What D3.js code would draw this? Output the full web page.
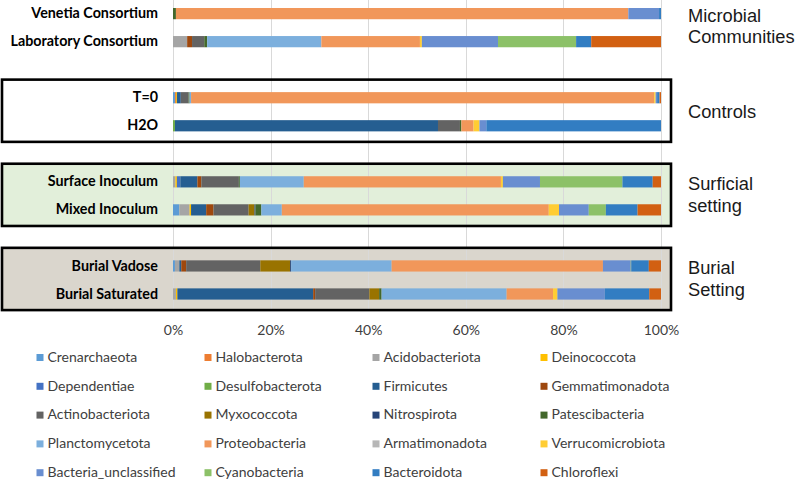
<!DOCTYPE html>
<html>
<head>
<meta charset="utf-8">
<script src="https://cdn.jsdelivr.net/npm/d3@7"></script>
<style>
  body { margin: 0; background: #fff; }
  svg { display: block; }
</style>
</head>
<body>
<div id="chart"></div>
<script>
// samples (top to bottom), gaps between the groups are empty slots
const categories = ['Venetia Consortium', 'Laboratory Consortium', 'T=0', 'H2O',
  'Surface Inoculum', 'Mixed Inoculum', 'Burial Vadose', 'Burial Saturated'];
const slots = ['Venetia Consortium', 'Laboratory Consortium', 'gap1', 'T=0', 'H2O', 'gap2',
  'Surface Inoculum', 'Mixed Inoculum', 'gap3', 'Burial Vadose', 'Burial Saturated'];

const phyla = ['Crenarchaeota', 'Halobacterota', 'Acidobacteriota', 'Deinococcota',
  'Dependentiae', 'Desulfobacterota', 'Firmicutes', 'Gemmatimonadota',
  'Actinobacteriota', 'Myxococcota', 'Nitrospirota', 'Patescibacteria',
  'Planctomycetota', 'Proteobacteria', 'Armatimonadota', 'Verrucomicrobiota',
  'Bacteria_unclassified', 'Cyanobacteria', 'Bacteroidota', 'Chloroflexi'];

const colors = ['#5B9BD5', '#ED7D31', '#A5A5A5', '#FFC000', '#4472C4', '#70AD47',
  '#255E91', '#9E480E', '#636363', '#997300', '#264478', '#43682B', '#7CAFDD',
  '#F1975A', '#B7B7B7', '#FFCD33', '#698ED0', '#8CC168', '#327DC2', '#D26012'];

// relative abundance (%), one value per phylum in the order above
const venetia    = [0, 0, 0, 0, 0, 0, 0, 0, 0, 0, 0, 0.6, 0, 92.7, 0, 0, 6.3, 0, 0.4, 0];
const laboratory = [0, 0, 2.9, 0, 0, 0, 0, 1.0, 2.5, 0, 0, 0.6, 23.4, 20.2, 0, 0.4, 15.6, 16.0, 3.1, 14.3];
const t0         = [0.4, 0.2, 0, 0.2, 0, 0, 0.8, 0, 1.6, 0, 0, 0.2, 0.3, 94.9, 0, 0.3, 0.3, 0, 0.5, 0.3];
const h2o        = [0, 0, 0, 0, 0, 0.4, 53.9, 0, 4.5, 0, 0, 0.3, 0, 2.5, 0, 1.2, 1.4, 0, 35.8, 0];
const surface    = [0, 0, 0.5, 0.3, 0.7, 0, 3.5, 0.8, 7.7, 0, 0, 0.2, 13.1, 40.4, 0, 0.4, 7.6, 16.9, 6.2, 1.7];
const mixed      = [1.3, 0, 2.1, 0.3, 0, 0, 3.1, 1.5, 7.2, 1.2, 0.2, 1.2, 4.2, 54.7, 0, 2.1, 6.1, 3.5, 6.5, 4.8];
const vadose     = [0.4, 0, 0.9, 0, 0, 0, 0.4, 1.0, 15.2, 6.1, 0.2, 0, 20.6, 43.3, 0, 0, 5.7, 0.1, 3.6, 2.5];
const saturated  = [0, 0, 0.6, 0.3, 0, 0, 27.8, 0.4, 11.1, 2.0, 0, 0.5, 25.6, 9.5, 0, 0.9, 9.7, 0, 9.1, 2.4];
const sampleValues = [venetia, laboratory, t0, h2o, surface, mixed, vadose, saturated];

// boxed groups + the labels on the right
const groups = [
  {name: ['Microbial', 'Communities'], members: ['Venetia Consortium', 'Laboratory Consortium'], box: false},
  {name: ['Controls'], members: ['T=0', 'H2O'], box: true, fill: '#ffffff'},
  {name: ['Surficial', 'setting'], members: ['Surface Inoculum', 'Mixed Inoculum'], box: true, fill: '#E2EFDA'},
  {name: ['Burial', 'Setting'], members: ['Burial Vadose', 'Burial Saturated'], box: true, fill: '#DAD6CD'}
];

const tickValues = [0, 0.2, 0.4, 0.6, 0.8, 1];

// layout
const width = 797;
const height = 480;
const plot = {left: 173, right: 661, top: -0.4, bottom: 308};

const table = categories.map((c, i) => {
  const row = {name: c};
  phyla.forEach((p, j) => row[p] = sampleValues[i][j]);
  return row;
});

const series = d3.stack()
  .keys(phyla)
  .offset(d3.stackOffsetExpand)(table);

const x = d3.scaleLinear().domain([0, 1]).range([plot.left, plot.right]);
const y = d3.scaleBand()
  .domain(slots)
  .range([plot.top, plot.bottom])
  .paddingInner(0.6)
  .paddingOuter(0.3);
const color = d3.scaleOrdinal().domain(phyla).range(colors);

const svg = d3.select('#chart').append('svg')
  .attr('width', width)
  .attr('height', height);

// box fills
const boxes = groups.filter(g => g.box);
const boxX0 = 2, boxX1 = 671;
const boxTop = g => y(g.members[0]) - 12.5;
const boxBottom = g => y(g.members[1]) + y.bandwidth() + 10.5;

svg.append('g').selectAll('rect')
  .data(boxes)
  .join('rect')
  .attr('x', boxX0)
  .attr('y', boxTop)
  .attr('width', boxX1 - boxX0)
  .attr('height', g => boxBottom(g) - boxTop(g))
  .attr('fill', g => g.fill);

// gridlines
svg.append('g').selectAll('line')
  .data(tickValues)
  .join('line')
  .attr('x1', d => Math.round(x(d)) + 0.5)
  .attr('x2', d => Math.round(x(d)) + 0.5)
  .attr('y1', 0)
  .attr('y2', 309)
  .attr('stroke', '#D9D9D9')
  .attr('stroke-width', 1);

// stacked bars
svg.append('g').selectAll('g')
  .data(series)
  .join('g')
  .attr('fill', d => color(d.key))
  .selectAll('rect')
  .data(d => d.map(s => ({s, name: s.data.name})))
  .join('rect')
  .attr('x', d => x(d.s[0]))
  .attr('y', d => y(d.name))
  .attr('width', d => Math.max(0, x(d.s[1]) - x(d.s[0])))
  .attr('height', y.bandwidth());

// box borders
svg.append('g').selectAll('rect')
  .data(boxes)
  .join('rect')
  .attr('x', boxX0)
  .attr('y', boxTop)
  .attr('width', boxX1 - boxX0)
  .attr('height', g => boxBottom(g) - boxTop(g))
  .attr('fill', 'none')
  .attr('stroke', '#000')
  .attr('stroke-width', 2.6);

// category axis
const yAxis = d3.axisLeft(y)
  .tickValues(categories)
  .tickSize(0)
  .tickPadding(15);

svg.append('g')
  .attr('transform', `translate(${plot.left}, 0)`)
  .call(yAxis)
  .call(g => g.select('.domain').remove())
  .selectAll('text')
  .attr('font-family', 'Lato, "Open Sans", sans-serif')
  .attr('font-weight', 'bold')
  .attr('font-size', 14.3)
  .attr('fill', '#000');

// percent axis
const xAxis = d3.axisBottom(x)
  .tickValues(tickValues)
  .tickFormat(d3.format('.0%'))
  .tickSize(0)
  .tickPadding(16);

svg.append('g')
  .attr('transform', `translate(0, 309)`)
  .call(xAxis)
  .call(g => g.select('.domain').remove())
  .selectAll('text')
  .attr('font-family', 'Lato, "Open Sans", sans-serif')
  .attr('font-size', 14)
  .attr('fill', '#404040');

// group labels on the right
const groupLabels = svg.append('g')
  .attr('font-family', '"Liberation Sans", Arial, sans-serif')
  .attr('font-size', 18.3)
  .attr('fill', '#1a1a1a');

groups.forEach(g => {
  const c = (y(g.members[0]) + y(g.members[1]) + y.bandwidth()) / 2;
  const offs = g.name.length === 1 ? [6] : [-5.8, 15.8];
  g.name.forEach((line, i) => {
    groupLabels.append('text')
      .attr('x', 688)
      .attr('y', c + offs[i])
      .text(line);
  });
});

// legend
const legend = svg.append('g')
  .attr('font-family', 'Lato, "Open Sans", sans-serif')
  .attr('font-size', 14)
  .attr('fill', '#404040');

const item = legend.selectAll('g')
  .data(phyla)
  .join('g')
  .attr('transform', (d, i) => `translate(${36.5 + (i % 4) * 168}, ${354 + Math.floor(i / 4) * 28.8})`);

item.append('rect')
  .attr('width', 7)
  .attr('height', 7)
  .attr('fill', d => color(d));

item.append('text')
  .attr('x', 11)
  .attr('y', 7.8)
  .text(d => d);
</script>
</body>
</html>
